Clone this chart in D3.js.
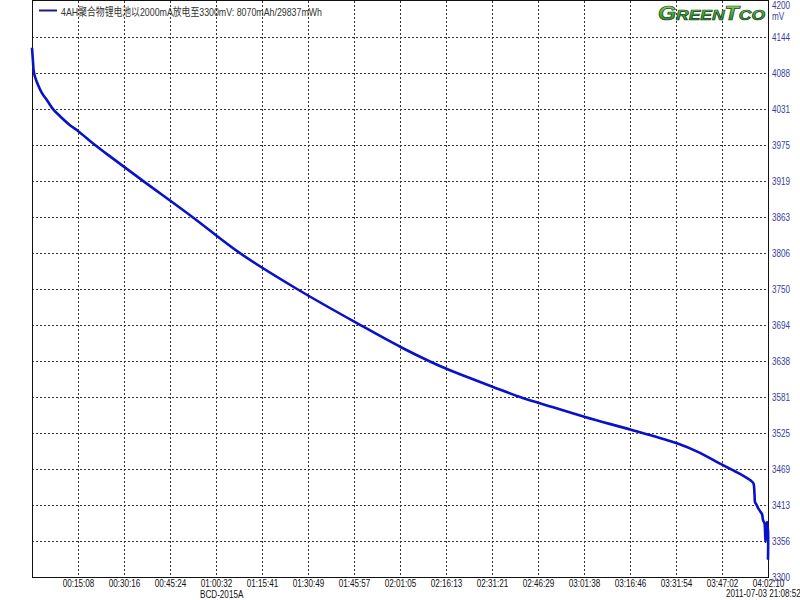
<!DOCTYPE html>
<html>
<head>
<meta charset="utf-8">
<script src="https://cdn.jsdelivr.net/npm/d3@7"></script>
<style>
  html, body { margin: 0; padding: 0; background: #fff; }
  svg { display: block; }
</style>
</head>
<body>
<svg id="chart" width="800" height="600"></svg>
<script>
// ---- data (time in seconds, voltage in mV) ----
const timeSec = [0, 20, 39, 118, 197, 296, 415, 553, 750, 908, 1244, 1560, 2191, 3159, 4106, 5232, 6475,
  7285, 7877, 8193, 9101, 9674, 10009, 10917, 11826, 12734, 13188, 13583, 13977, 14214, 14244, 14264, 14274,
  14303, 14333, 14372, 14412, 14432, 14461, 14471, 14481, 14491, 14510, 14520, 14530, 14530];
const voltage = [4127, 4105, 4088, 4069, 4056, 4045, 4031, 4020, 4006, 3997, 3975, 3956, 3919, 3863, 3806, 3750, 3694,
  3659, 3636, 3625, 3597, 3580, 3572, 3550, 3530, 3509, 3494, 3477, 3461, 3449, 3446, 3429, 3417,
  3413, 3408, 3403, 3398, 3389, 3384, 3373, 3355, 3377, 3386, 3378, 3373, 3327];

const xTickLabels = ["00:15:08", "00:30:16", "00:45:24", "01:00:32", "01:15:41", "01:30:49", "01:45:57",
  "02:01:05", "02:16:13", "02:31:21", "02:46:29", "03:01:38", "03:16:46", "03:31:54", "03:47:02", "04:02:10"];
const yTickLabels = ["4200", "4144", "4088", "4031", "3975", "3919", "3863", "3806", "3750",
  "3694", "3638", "3581", "3525", "3469", "3413", "3356", "3300"];
const legendText = "4AH聚合物锂电池以2000mA放电至3300mV: 8070mAh/29837mWh";
const deviceText = "BCD-2015A";
const dateText = "2011-07-03 21:08:52";
const unitText = "mV";

const tMax = 14530, vMin = 3300, vMax = 4200;

// ---- layout ----
const L = 32, R = 768, T = 1, B = 577;
const SX = 0.74; // horizontal squeeze of the original font
const FONT = "'Liberation Sans', Arial, sans-serif";

const svg = d3.select("#chart");
const x = d3.scaleLinear().domain([0, tMax]).range([L, R]);
const y = d3.scaleLinear().domain([vMin, vMax]).range([B, T]);

const xTickVals = xTickLabels.map((d, i) => (i + 1) * tMax / xTickLabels.length);
const yTickVals = yTickLabels.map((d, i) => vMax - i * (vMax - vMin) / (yTickLabels.length - 1));

// grid
const grid = svg.append("g").attr("stroke", "#333").attr("stroke-width", 1)
  .attr("stroke-dasharray", "2,2").attr("shape-rendering", "crispEdges");
grid.selectAll("line.v").data(xTickVals.slice(0, -1)).join("line").attr("class", "v")
  .attr("x1", d => Math.round(x(d)) + 0.5).attr("x2", d => Math.round(x(d)) + 0.5)
  .attr("y1", T).attr("y2", B);
grid.selectAll("line.h").data(yTickVals.slice(1, -1)).join("line").attr("class", "h")
  .attr("y1", d => Math.round(y(d)) + 0.5).attr("y2", d => Math.round(y(d)) + 0.5)
  .attr("x1", L).attr("x2", R);

// frame
svg.append("rect").attr("x", L + 0.5).attr("y", 0.5).attr("width", R - L).attr("height", B - 0.5)
  .attr("fill", "none").attr("stroke", "#111").attr("stroke-width", 1).attr("shape-rendering", "crispEdges");

// bottom axis labels
const xAxis = d3.axisBottom(x).tickValues(xTickVals).tickFormat((d, i) => xTickLabels[i])
  .tickSize(0).tickPadding(0);
const gx = svg.append("g").attr("transform", `translate(0,${B})`).call(xAxis);
gx.select(".domain").remove();
gx.selectAll("text").attr("y", 0).attr("dy", "10.5").attr("fill", "#111")
  .style("font-family", FONT).style("font-size", "11px")
  .attr("transform", `scale(${SX},1)`);

// right axis labels
const yAxis = d3.axisRight(y).tickValues(yTickVals).tickFormat((d, i) => yTickLabels[i])
  .tickSize(0).tickPadding(0);
const gy = svg.append("g").attr("transform", `translate(${R + 4},0)`).call(yAxis);
gy.select(".domain").remove();
gy.selectAll("text").attr("x", 0).attr("dy", "0.36em").attr("fill", "#3c3c9c")
  .style("font-family", FONT).style("font-size", "11px")
  .attr("transform", `scale(${SX},1)`);
gy.selectAll(".tick").filter((d, i) => i === 0).select("text").attr("dy", "0.7em");

function addText(px, py, str, anchor, color) {
  svg.append("g").attr("transform", `translate(${px},${py}) scale(${SX},1)`)
    .append("text").attr("text-anchor", anchor).attr("fill", color)
    .style("font-family", FONT).style("font-size", "11px").text(str);
}
addText(R + 4, 20, unitText, "start", "#3c3c9c");
addText(200, 598, deviceText, "start", "#111");
addText(726, 597, dateText, "start", "#111");

// legend
svg.append("line").attr("x1", 39).attr("x2", 57).attr("y1", 10.5).attr("y2", 10.5)
  .attr("stroke", "#1c1c8c").attr("stroke-width", 2);
svg.append("text").attr("x", 61).attr("y", 16).attr("fill", "#333")
  .attr("textLength", 261).attr("lengthAdjust", "spacingAndGlyphs")
  .style("font-family", "'Liberation Sans', 'Noto Sans CJK SC', sans-serif").style("font-size", "11px")
  .text(legendText);

// logo
const defs = svg.append("defs");
const grad = defs.append("linearGradient").attr("id", "lg").attr("x1", 0).attr("y1", 0).attr("x2", 0).attr("y2", 1);
grad.append("stop").attr("offset", "0%").attr("stop-color", "#a6e07c");
grad.append("stop").attr("offset", "55%").attr("stop-color", "#46ac3a");
grad.append("stop").attr("offset", "100%").attr("stop-color", "#1f7a22");
const logo = svg.append("text").attr("x", 658).attr("y", 20)
  .attr("fill", "url(#lg)").attr("stroke", "#163f16").attr("stroke-width", 0.7)
  .attr("textLength", 107).attr("lengthAdjust", "spacingAndGlyphs")
  .style("font-family", FONT).style("font-weight", "bold").style("font-style", "italic");
[["G", 20], ["REEN", 15], ["T", 20], ["CO", 15]].forEach(([s, f]) =>
  logo.append("tspan").style("font-size", f + "px").text(s));

// curve
const pts = timeSec.map((t, i) => [t, voltage[i]]);
svg.append("path").datum(pts)
  .attr("fill", "none").attr("stroke", "#0a12c8").attr("stroke-width", 2.6)
  .attr("stroke-linejoin", "round")
  .attr("d", d3.line().x(d => x(d[0])).y(d => y(d[1])).curve(d3.curveCatmullRom.alpha(0.5)));
</script>
</body>
</html>
